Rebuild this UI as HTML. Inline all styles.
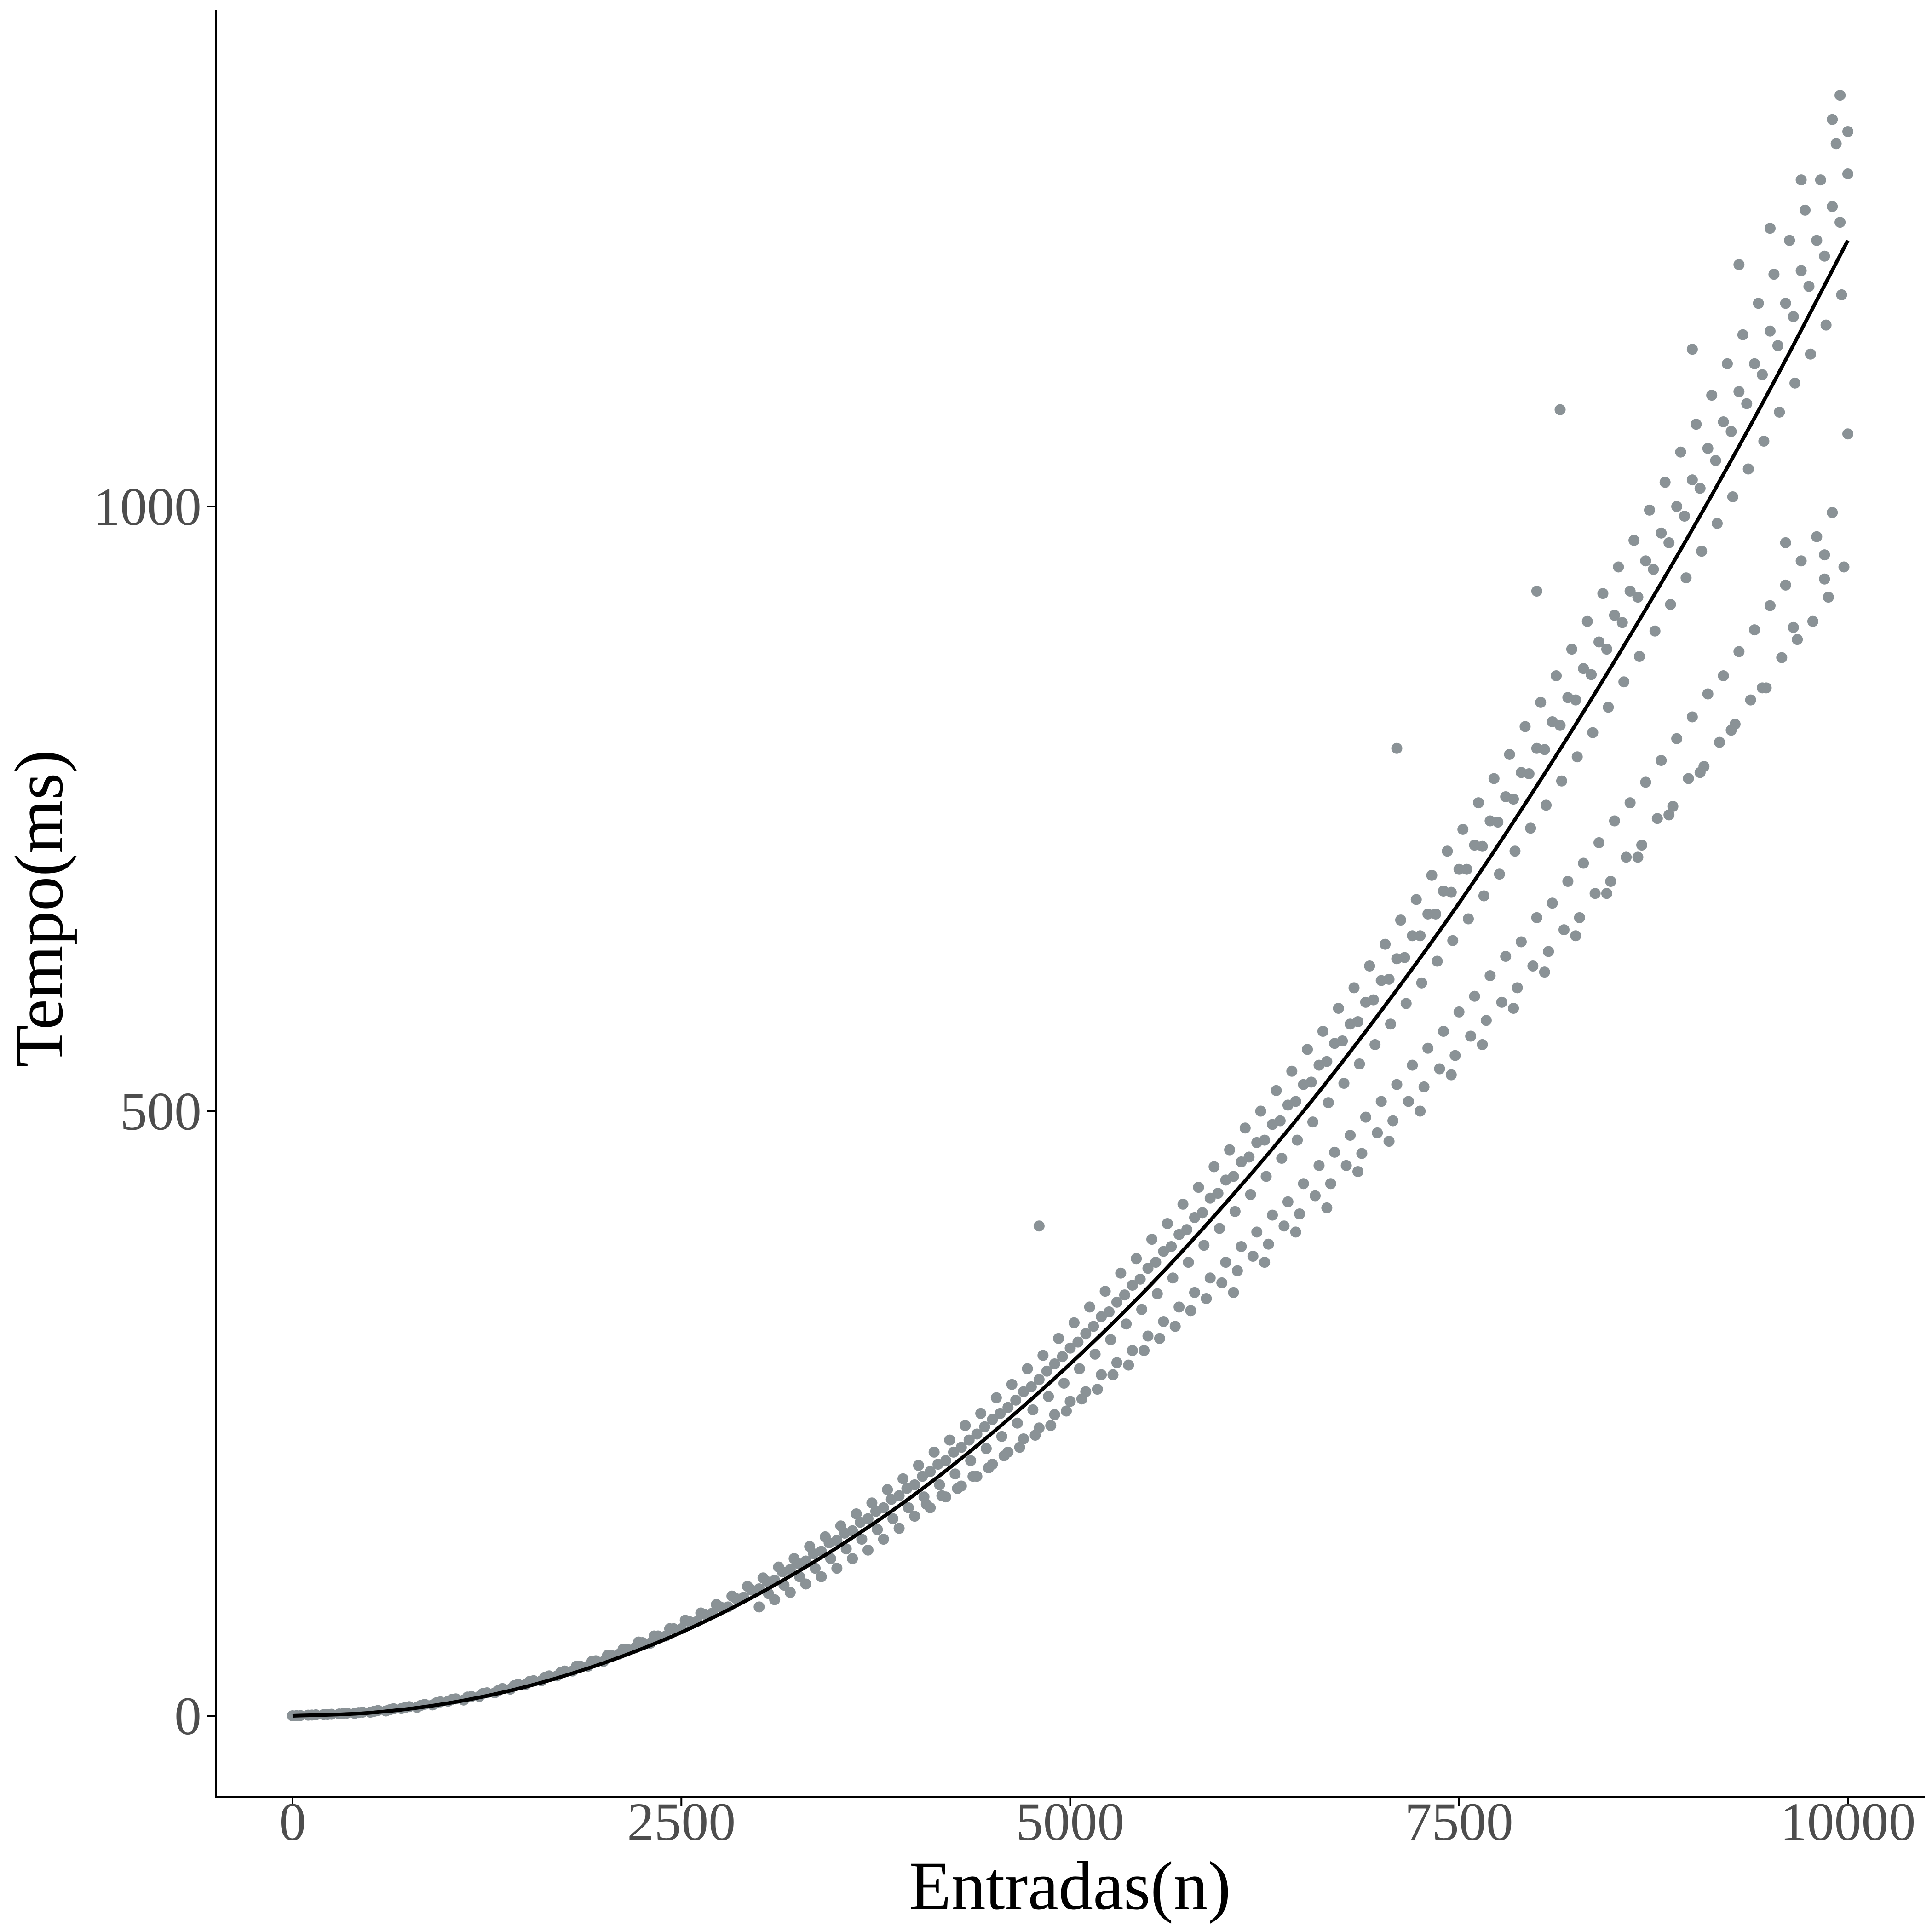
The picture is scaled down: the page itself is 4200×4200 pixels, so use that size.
<!DOCTYPE html>
<html><head><meta charset="utf-8"><style>
html,body{margin:0;padding:0;background:#fff;}
svg{display:block;}
text{font-family:"Liberation Serif",serif;}
</style></head>
<body>
<svg id="chart" width="4200" height="4200" viewBox="0 0 4200 4200" xmlns="http://www.w3.org/2000/svg">
<rect width="4200" height="4200" fill="#fff"/>
<g id="points"></g>
<g id="fit"></g>
<line x1="470" y1="22" x2="470" y2="3908" stroke="#000" stroke-width="4"/>
<line x1="468" y1="3907" x2="4185" y2="3907" stroke="#000" stroke-width="4"/>
<g id="xticks"></g>
<g id="yticks"></g>
<text x="2326" y="4150" font-size="150" text-anchor="middle" fill="#000">Entradas(n)</text>
<text transform="translate(135,1975) rotate(-90)" font-size="150" text-anchor="middle" fill="#000">Tempo(ms)</text>
</svg>
<script>
const xTickValues=[0,2500,5000,7500,10000];
const xTickLabels=["0","2500","5000","7500","10000"];
const yTickValues=[0,500,1000];
const yTickLabels=["0","500","1000"];
const curveX=[0,500,1000,1500,2000,2500,3000,3500,4000,4500,5000,5500,6000,6500,7000,7500,8000,8500,9000,9500,10000];
const curveY=[0,2.5,10.4,24,43.6,69,101,139,183,234,291,354,424,500,583,672,769,872,981,1097,1220];
const aY=[0,0.5,1,1.5,2,3,4,6,7,9,12,13,16,19,22,26,29,33,37,41,45,51,56,60,66,72,78,85,90,98,105,112,121,128,136,145,153,163,172,182,191,202,211,222,233,245,255,268,278,291,304,316,330,342,356,370,384,398,412,428,443,458,474,489,505,522,538,556,572,590,608,626,645,663,682,700,720,740,760,780,800,822,842,866,888,910,930,955,978,1000,1022,1048,1070,1095,1118,1145,1168,1195,1220,1248,1275];
const aX=aY.map((v,i)=>i*100);
const bY=[90,96,102,109,115,122,130,137,146,155,165,172,181,190,198,208,218,229,238,249,260,268,282,292,302,314,326,338,350,362,375,388,400,414,425,440,455,466,480,495,508,522,538,552,566,582,595,612,628,640,660,672,690,705,722,740,755,772,790,808,826,845,860,880,898,918,935,955,975,995,1060];
const bX=bY.map((v,i)=>3000+i*100);
const cY=[0.2,0.8,1.3,2.2,3,4.4,5.8,7.5,9.5,11.5,14,16,19,22.5,26,29,33,37,41,45.5,50,55,60.5,66,72,78,84,90,97,104,111,119,126,134,143,151,160,169,179,188,198,208,218,228,239,250,261,272,285,297,309,322,334,348,361,375,388,402,416,432,446,462,476,492,508,524,541,558,574,592,609,627,645,663,681,700,719,739,758,779,799,819,840,861,882,904,925,948,970,992,1015,1038,1062,1085,1109,1133,1157,1182,1207,1235];
const cX=cY.map((v,i)=>50+i*100);
const eY=[0.1,0.6,1.1,1.8,2.6,3.7,5,6.8,8.6,10.8,13.5,15.5,18.5,21,25,28.5,32,36,41,45,50,55,61,66,72,79,85,92,99,107,114,123,130,140,148,157,167,176,187,196,207,218,228,240,250,263,274,287,298,312,325,338,351,366,378,394,407,423,437,454,468,486,500,517,533,551,566,585,602,620,638,658,675,695,715,733,755,775,795,818,838,860,882,905,928,950,972,997,1020,1045,1068,1092,1118,1142,1168,1192,1220,1245,1270,1300];
const eX=eY.map((v,i)=>25+i*100);
const fY=[175,182,188,198,205,215,222,232,240,252,262,270,282,290,302,312,322,335,345,358,368,380,390,405,415,430,440,455,465,482,492,508,520,535,546,562,575,590,602,620,632,650,660,680,690,710,720,742,752,775,785,805,820,840,850,875,890,905,925,950];
const fX=fY.map((v,i)=>4075+i*100);
const gY=[350,375,400,420,450,475,500,530,555,585,615,645,680,710,745,780,815,850,900,940];
const gX=gY.map((v,i)=>6050+i*200);
const hY=[101,108,115,122,130,138,146,154,163,172,181,191,200,211,221,231,242,253,264,275,287,299,311,324,336,349,362,375,389,403,417,431,446,461,476,491,507,523,539,555,572,589,606,624,641,659,678,696,715,734,753,773,793,813,834,855,876,897,919,941,963,986,1008,1031,1054,1078,1102,1126,1150,1175];
const hX=hY.map((v,i)=>3060+i*100);
const dX=[4800,7100,8150,8000,9000,9300,9500,9700,9900,9950,10000,9850,9600];
const dY=[405,800,1080,930,1130,1200,1230,1270,1320,1340,1310,960,970];

const X=v=>636+(v/10000)*(4017-636);
const Y=v=>3730-(v/1000)*(3730-1101);
const NS="http://www.w3.org/2000/svg";
const pts=document.getElementById('points');
function addSeries(xs,ys){
  const n=Math.min(xs.length,ys.length);
  for(let i=0;i<n;i++){
    const c=document.createElementNS(NS,'circle');
    c.setAttribute('cx',X(xs[i]));c.setAttribute('cy',Y(ys[i]));
    c.setAttribute('r',12);c.setAttribute('fill','#8a9296');
    
    
    pts.appendChild(c);
  }
}
addSeries(aX,aY);addSeries(bX,bY);addSeries(cX,cY);addSeries(eX,eY);addSeries(fX,fY);addSeries(gX,gY);addSeries(hX,hY);addSeries(dX,dY);
const P=curveX.map((x,i)=>[X(x),Y(curveY[i])]);
let d='M'+P[0][0]+','+P[0][1];
for(let i=0;i<P.length-1;i++){
  const p0=P[Math.max(0,i-1)],p1=P[i],p2=P[i+1],p3=P[Math.min(P.length-1,i+2)];
  const c1=[p1[0]+(p2[0]-p0[0])/6,p1[1]+(p2[1]-p0[1])/6];
  const c2=[p2[0]-(p3[0]-p1[0])/6,p2[1]-(p3[1]-p1[1])/6];
  d+=' C'+c1[0]+','+c1[1]+' '+c2[0]+','+c2[1]+' '+p2[0]+','+p2[1];
}
const line=document.createElementNS(NS,'path');
line.setAttribute('d',d);
line.setAttribute('fill','none');line.setAttribute('stroke','#000');line.setAttribute('stroke-width','8');


document.getElementById('fit').appendChild(line);
const xt=document.getElementById('xticks');
xTickValues.forEach((v,i)=>{
  const l=document.createElementNS(NS,'line');
  l.setAttribute('x1',X(v));l.setAttribute('x2',X(v));l.setAttribute('y1',3907);l.setAttribute('y2',3926);
  l.setAttribute('stroke','#000');l.setAttribute('stroke-width','4');
  
  
  xt.appendChild(l);
  const t=document.createElementNS(NS,'text');
  t.setAttribute('x',X(v));t.setAttribute('y',4000);t.setAttribute('font-size','118');
  t.setAttribute('text-anchor','middle');t.setAttribute('fill','#4d4d4d');
  t.textContent=xTickLabels[i];
  
  
  xt.appendChild(t);
});
const yt=document.getElementById('yticks');
yTickValues.forEach((v,i)=>{
  const l=document.createElementNS(NS,'line');
  l.setAttribute('x1',451);l.setAttribute('x2',470);l.setAttribute('y1',Y(v));l.setAttribute('y2',Y(v));
  l.setAttribute('stroke','#000');l.setAttribute('stroke-width','4');
  
  
  yt.appendChild(l);
  const t=document.createElementNS(NS,'text');
  t.setAttribute('x',438);t.setAttribute('y',Y(v)+40);t.setAttribute('font-size','118');
  t.setAttribute('text-anchor','end');t.setAttribute('fill','#4d4d4d');
  t.textContent=yTickLabels[i];
  
  
  yt.appendChild(t);
});
</script>
</body></html>
